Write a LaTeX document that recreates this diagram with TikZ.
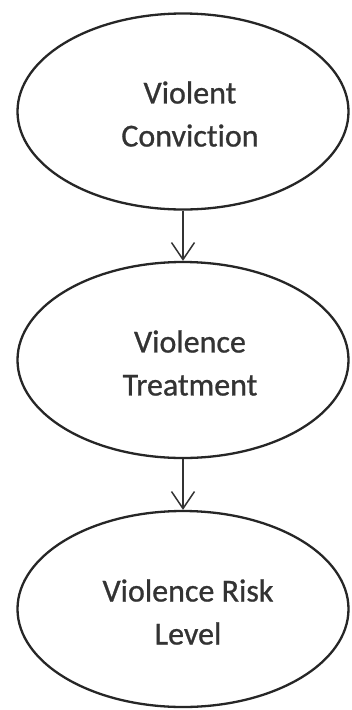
\documentclass[tikz,border=0pt]{standalone}
\usepackage{fontspec}
\setmainfont[Ligatures=NoCommon,BoldFont=Carlito,BoldFeatures={FakeBold=0.8}]{Carlito}
\usetikzlibrary{shapes.geometric,arrows.meta}
\begin{document}
\begin{tikzpicture}[x=1pt,y=-1pt,
  oval/.style={draw=black!85, line width=2.3pt, ellipse, minimum width=331pt, minimum height=196pt, inner sep=0pt},
  lbl/.style={align=center, font=\fontsize{32}{43}\selectfont\bfseries, text=black!80},
  conn/.style={draw=black!80, line width=1.5pt, -{Straight Barb[length=17pt,width=23pt,line width=1.5pt]}}]
\fill[white] (0,0) rectangle (351,710);
\useasboundingbox (0,0) rectangle (351,710);
\node[oval] (e1) at (183,111.5) {};
\node[oval] (e2) at (183,360) {};
\node[oval] (e3) at (183,609) {};
\node[lbl] (t1) at (190,114) {Violent\\Conviction};
\node[lbl] (t2) at (190,363) {Violence\\Treatment};
\node[lbl] (t3) at (188,612) {Violence Risk\\Level};
\draw[conn] (e1.south) -- (e2.north);
\draw[conn] (e2.south) -- (e3.north);
\end{tikzpicture}
\end{document}
